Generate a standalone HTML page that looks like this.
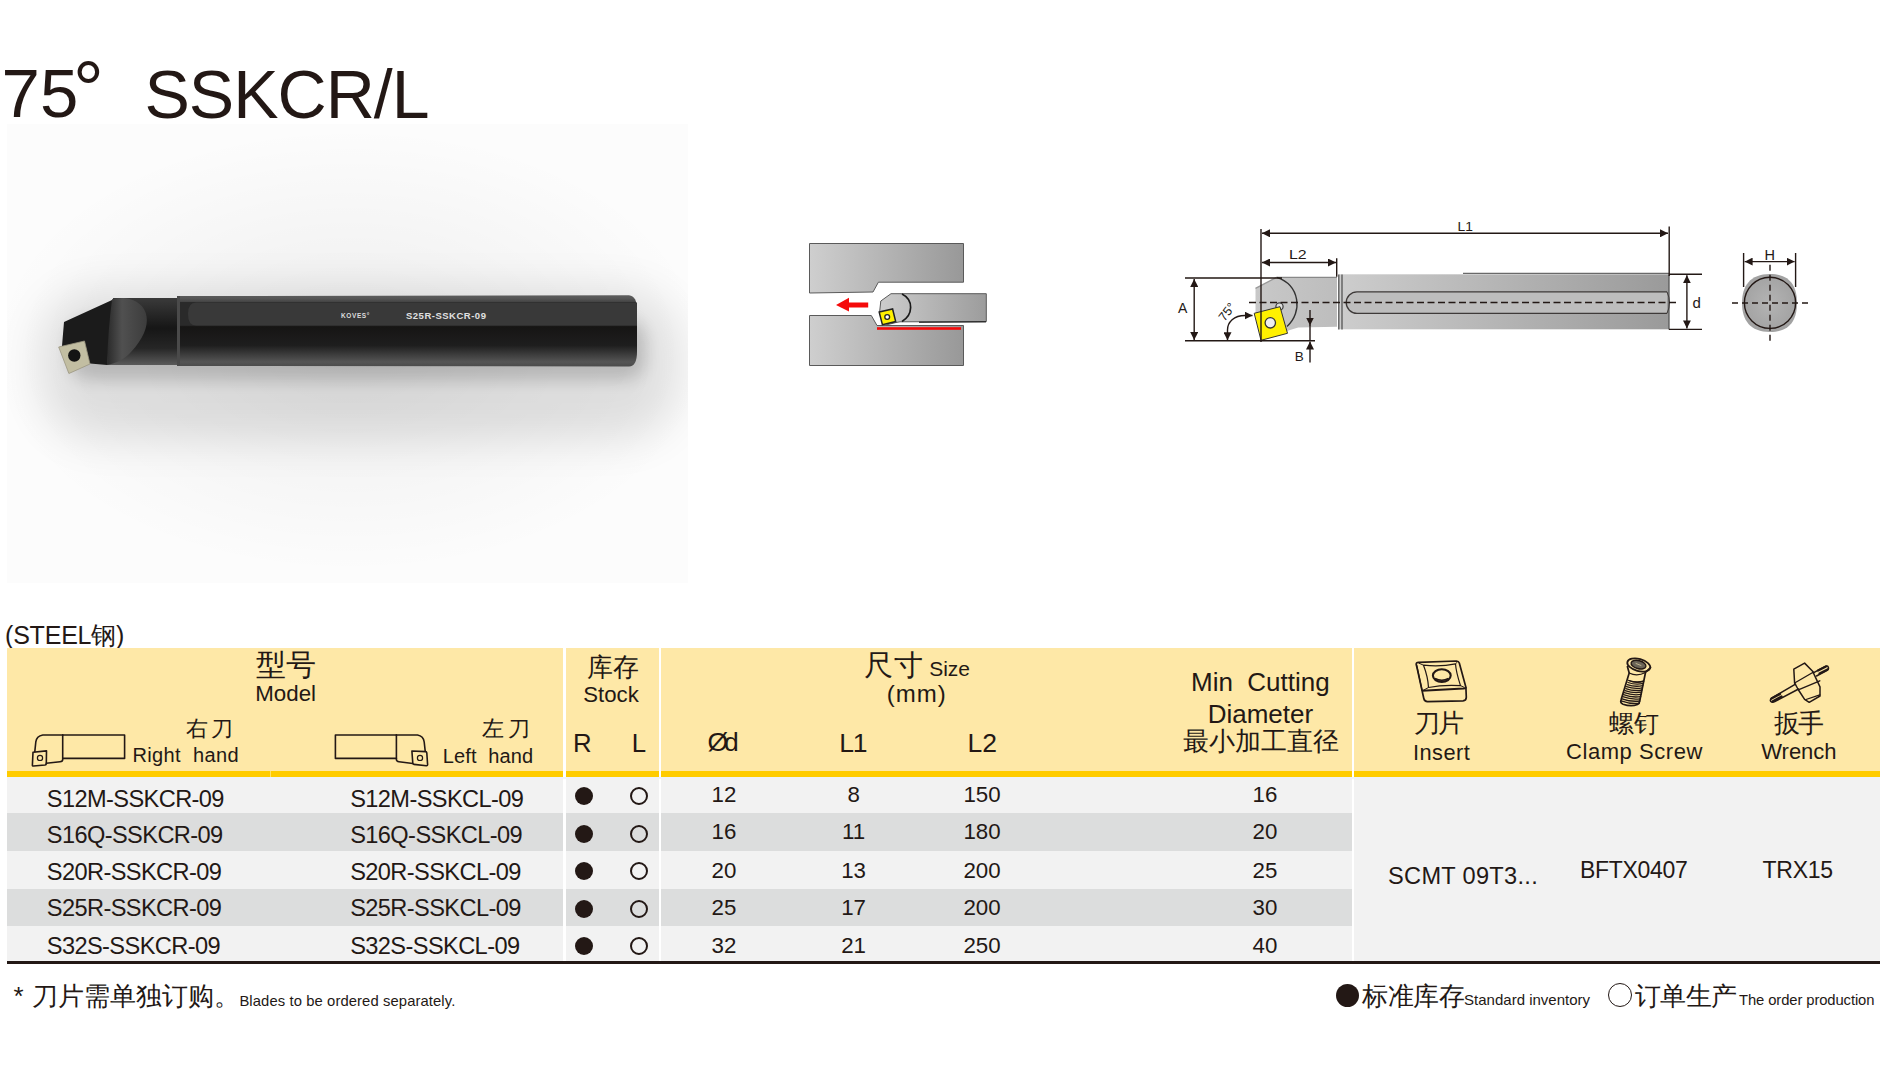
<!DOCTYPE html>
<html><head><meta charset="utf-8">
<style>
html,body{margin:0;padding:0;background:#fff;}
body{width:1885px;height:1080px;position:relative;overflow:hidden;font-family:"Liberation Sans",sans-serif;color:#231815;}
.a{position:absolute;white-space:nowrap;line-height:1;}
.bg{position:absolute;}
.c{text-align:center;}
svg{position:absolute;overflow:visible;}
</style></head>
<body>
<div class="a" style="left:1.6px;top:59px;font-size:69px;">75</div>
<div class="a" style="left:73.1px;top:50.7px;font-size:77px;">°</div>
<div class="a" style="left:144.5px;top:59.8px;font-size:68px;letter-spacing:-1.0px;">SSKCR/L</div>
<svg style="left:0;top:0" width="1885" height="1080" viewBox="0 0 1885 1080">
<defs>
<radialGradient id="pbg" cx="350" cy="350" r="360" gradientUnits="userSpaceOnUse" gradientTransform="translate(0,350) scale(1,0.62) translate(0,-350)">
<stop offset="0" stop-color="#000" stop-opacity="0.06"/><stop offset="0.5" stop-color="#000" stop-opacity="0.03"/><stop offset="1" stop-color="#000" stop-opacity="0"/>
</radialGradient>
<filter id="blur1" x="-50%" y="-100%" width="200%" height="300%"><feGaussianBlur stdDeviation="22"/></filter>
<filter id="blur2" x="-50%" y="-100%" width="200%" height="300%"><feGaussianBlur stdDeviation="8"/></filter>
<filter id="blur05"><feGaussianBlur stdDeviation="0.6"/></filter>
<linearGradient id="shank" x1="0" y1="295" x2="0" y2="367" gradientUnits="userSpaceOnUse">
<stop offset="0" stop-color="#5e5e5e"/>
<stop offset="0.05" stop-color="#555555"/>
<stop offset="0.09" stop-color="#474747"/>
<stop offset="0.10" stop-color="#2a2a2a"/>
<stop offset="0.42" stop-color="#2a2a2a"/>
<stop offset="0.44" stop-color="#161514"/>
<stop offset="0.70" stop-color="#1e1e1e"/>
<stop offset="0.93" stop-color="#555555"/>
<stop offset="1" stop-color="#4a4a4a"/>
</linearGradient>
<linearGradient id="neck" x1="0" y1="298" x2="0" y2="365" gradientUnits="userSpaceOnUse">
<stop offset="0" stop-color="#3a3a3a"/>
<stop offset="0.45" stop-color="#161616"/>
<stop offset="0.75" stop-color="#262626"/>
<stop offset="1" stop-color="#5a5a5a"/>
</linearGradient>
<linearGradient id="crescent" x1="107" y1="0" x2="150" y2="0" gradientUnits="userSpaceOnUse">
<stop offset="0" stop-color="#2a2a2a"/>
<stop offset="0.35" stop-color="#505050"/>
<stop offset="1" stop-color="#3a3a3a"/>
</linearGradient>
</defs>
<rect x="7" y="124" width="681" height="459" fill="#fcfcfc"/>
<rect x="7" y="124" width="681" height="459" fill="url(#pbg)"/>
<clipPath id="pclip"><rect x="7" y="124" width="681" height="459"/></clipPath>
<g clip-path="url(#pclip)">
<rect x="40" y="290" width="640" height="150" rx="60" fill="#000" opacity="0.10" filter="url(#blur1)"/>
<rect x="70" y="320" width="575" height="60" rx="20" fill="#000" opacity="0.16" filter="url(#blur2)"/>
</g>
<!-- head -->
<path d="M64,322 L111,300.5 Q114,298 120,298 L180,298 L180,365 L107,365 L90,363.5 L62,346 Z" fill="#1b1b1b"/>
<path d="M113,298 L180,298 L180,365 L107,365 Z" fill="url(#neck)"/>
<path d="M112,299.5 Q115,298 124,298 C150,301 156,326 131,352 C125,359 116,363.5 107,365 Q108,330 112,299.5 Z" fill="url(#crescent)"/>
<!-- shank -->
<path d="M177,296 L629,295.3 Q637,296 637,310 L637,352 Q637,366 629,366.5 L177,366 Z" fill="url(#shank)"/>
<rect x="177" y="296" width="3" height="70" fill="#4a4a4a"/>
<path d="M196,302.5 L637,302.5 L637,325.5 L196,325.5 Q188,325.5 188,314 Q188,302.5 196,302.5 Z" fill="#393939"/>
<!-- insert -->
<path d="M58.7,347 L84.5,341 L90,364 L68.9,373.5 Z" fill="#c2bea2" stroke="#9a9680" stroke-width="0.8"/>
<circle cx="74.3" cy="355.5" r="6.2" fill="#141414"/>
<!-- text -->
<text x="341" y="318" font-family="Liberation Sans" font-size="6.5" font-weight="bold" fill="#dcdcdc" letter-spacing="0.6">KOVES°</text>
<text x="406" y="318.5" font-family="Liberation Sans" font-size="9.5" font-weight="bold" fill="#e0e0e0" letter-spacing="0.5">S25R-SSKCR-09</text>
</svg>

<svg style="left:0;top:0" width="1885" height="1080" viewBox="0 0 1885 1080">
<defs>
<linearGradient id="g1" x1="809" y1="0" x2="964" y2="0" gradientUnits="userSpaceOnUse">
<stop offset="0" stop-color="#cfcfcf"/><stop offset="1" stop-color="#989898"/>
</linearGradient>
<linearGradient id="g2" x1="880" y1="0" x2="987" y2="0" gradientUnits="userSpaceOnUse">
<stop offset="0" stop-color="#cccccc"/><stop offset="1" stop-color="#9c9c9c"/>
</linearGradient>
</defs>
<path d="M809.5,243.5 L963.5,243.5 L963.5,282.2 L878.4,282.2 L873,292 L809.5,293 Z" fill="url(#g1)" stroke="#5a5a5a" stroke-width="1"/>
<path d="M809.5,315.5 L871.3,315.5 L877,325.5 L963.5,325.5 L963.5,365.5 L809.5,365.5 Z" fill="url(#g1)" stroke="#5a5a5a" stroke-width="1"/>
<rect x="877" y="327.2" width="84" height="2.6" fill="#f50a0a"/>
<path d="M891,293.7 L986.3,293.7 L986.3,321.6 L900,321.8 L896,322.5 L884,325.5 L879.5,313 L880.8,301 Z" fill="url(#g2)" stroke="#5a5a5a" stroke-width="1"/>
<path d="M902,294 C914,300 913,315 902,321.5" fill="none" stroke="#1a1a1a" stroke-width="1.7"/>
<path d="M919,322.2 L986,321.8" stroke="#222" stroke-width="1.4" opacity="0.8"/>
<path d="M879.2,312.1 L892.6,309 L895.7,321.6 L882.4,324.7 Z" fill="#fff100" stroke="#222" stroke-width="1.5"/>
<circle cx="887.2" cy="317" r="2.4" fill="#fff" stroke="#222" stroke-width="1.3"/>
<path d="M836,305 L849,297.8 L849,302.6 L868.2,302.6 L868.2,307.4 L849,307.4 L849,311.5 Z" fill="#f50a0a"/>
</svg>

<svg style="left:0;top:0" width="1885" height="1080" viewBox="0 0 1885 1080">
<defs>
<linearGradient id="g3" x1="1338" y1="0" x2="1669" y2="0" gradientUnits="userSpaceOnUse">
<stop offset="0" stop-color="#cdcdcd"/><stop offset="0.5" stop-color="#b4b4b4"/><stop offset="1" stop-color="#9a9a9a"/>
</linearGradient>
<linearGradient id="g4" x1="1255" y1="0" x2="1337" y2="0" gradientUnits="userSpaceOnUse">
<stop offset="0" stop-color="#c8c8c8"/><stop offset="1" stop-color="#bdbdbd"/>
</linearGradient>
<radialGradient id="g5" cx="50%" cy="50%" r="50%">
<stop offset="0" stop-color="#b4b4b4"/><stop offset="1" stop-color="#a2a2a2"/>
</radialGradient>
<marker id="ar" viewBox="0 0 10 10" refX="10" refY="5" markerWidth="8" markerHeight="8" markerUnits="userSpaceOnUse" orient="auto-start-reverse">
<path d="M0,0 L10,5 L0,10 Z" fill="#231815"/>
</marker>
</defs>
<g stroke="#231815" fill="none" stroke-width="1.3">
<!-- shank -->
<rect x="1338.5" y="274.3" width="330.5" height="55" fill="url(#g3)" stroke="none"/>
<path d="M1463,273.3 L1669,273.3" stroke="#444" stroke-width="1"/>
<path d="M1338.8,274.5 L1338.8,329.5 M1342,274.5 L1342,329.5" stroke="#555"/>
<path d="M1669,274.5 L1669,329.5" stroke="#555" stroke-width="1.3"/>
<!-- slot -->
<path d="M1667,291.8 L1357,291.8 A10.8,10.8 0 0 0 1357,313.4 L1667,313.4" stroke="#3e3a39" stroke-width="1.3" fill="#bdbdbd"/>
<path d="M1667,291.8 Q1672,302.6 1667,313.4" stroke="#3e3a39" stroke-width="1"/>
<!-- head -->
<path d="M1255.5,288.3 L1276.7,277.3 L1337,277.3 L1337,326.7 L1298.3,327.5 L1290,330 L1262,340 L1255.5,313 Z" fill="url(#g4)" stroke="none"/>
<path d="M1276.7,277.3 L1337,277.3" stroke="#888"/>
<path d="M1276.7,277.3 C1300,285 1303,312 1287,326.5" stroke="#333" stroke-width="1.4"/>
<path d="M1255.5,288.3 L1276.7,277.3" stroke="#999"/>
<!-- screw behind -->
<circle cx="1279.5" cy="306.5" r="3.6" fill="#ddd" stroke="#444"/>
<!-- insert -->
<path d="M1254.2,313.3 L1280,306.7 L1287.5,333.3 L1261,340.3 Z" fill="#fff000" stroke="#333" stroke-width="1"/>
<circle cx="1270.3" cy="322.8" r="5.2" fill="#eee" stroke="#333" stroke-width="1.3"/>
<!-- center line -->
<path d="M1249,302.5 L1678,302.5" stroke="#231815" stroke-width="1.7" stroke-dasharray="7,3.5"/>
<!-- L1 -->
<path d="M1261,229 L1261,342" stroke-width="1.4"/>
<path d="M1669.2,226.5 L1669.2,276" stroke-width="1.4"/>
<path d="M1262,233.3 L1668,233.3" marker-start="url(#ar)" marker-end="url(#ar)" stroke-width="1.4"/>
<!-- L2 -->
<path d="M1336.7,258.3 L1336.7,276.7" stroke-width="1.4"/>
<path d="M1262,262.5 L1336,262.5" marker-start="url(#ar)" marker-end="url(#ar)" stroke-width="1.4"/>
<!-- A -->
<path d="M1185,278 L1282,278 M1185,340.8 L1315,340.8" stroke-width="1.4"/>
<path d="M1194.2,279 L1194.2,340" marker-start="url(#ar)" marker-end="url(#ar)" stroke-width="1.4"/>
<!-- B -->
<path d="M1310,310 L1310,325.5" marker-end="url(#ar)" stroke-width="1.4"/>
<path d="M1310,325 L1310,340.8" stroke-width="1.4"/>
<path d="M1310,362.5 L1310,341.5" marker-end="url(#ar)" stroke-width="1.4"/>
<!-- 75 arc -->
<path d="M1252.5,315.5 L1245,315.5 C1234,315.5 1227.5,322 1227.5,330 L1227.5,340.3" marker-start="url(#ar)" marker-end="url(#ar)" stroke-width="1.4"/>
<!-- d -->
<path d="M1669,274.3 L1702,274.3 M1669,329.4 L1702,329.4" stroke-width="1.4"/>
<path d="M1686.9,275.3 L1686.9,328.4" marker-start="url(#ar)" marker-end="url(#ar)" stroke-width="1.4"/>
<!-- end view -->
<path d="M1770,274 C1790,274 1797,286 1797,303 C1797,320 1790,332 1770,332 C1750,332 1742,320 1742,303 C1742,286 1750,274 1770,274 Z" fill="url(#g5)" stroke="none"/>
<circle cx="1770" cy="302.8" r="25.6" stroke="#231815" stroke-width="1.4"/>
<path d="M1743.6,253 L1743.6,287 M1795.6,253 L1795.6,287" stroke-width="1.4"/>
<path d="M1744.6,261.6 L1794.6,261.6" marker-start="url(#ar)" marker-end="url(#ar)" stroke-width="1.4"/>
<path d="M1732,303 L1809.5,303" stroke-dasharray="6,4" stroke-width="1.4" stroke="#231815"/>
<path d="M1770,264.7 L1770,341" stroke-dasharray="6,4" stroke-width="1.4" stroke="#231815"/>
</g>
<g font-family="Liberation Sans" fill="#231815" font-size="13">
<text x="1457.5" y="230.8" textLength="15.4" lengthAdjust="spacingAndGlyphs">L1</text>
<text x="1289" y="259.2" textLength="17.7" lengthAdjust="spacingAndGlyphs">L2</text>
<text x="1178" y="313.3" font-size="14">A</text>
<text x="1294.8" y="360.8" font-size="13.5">B</text>
<text x="1692.4" y="308.3" font-size="15">d</text>
<text x="1764.6" y="259.5" font-size="14.5">H</text>
<text x="0" y="0" font-size="12.5" transform="translate(1224.5,322) rotate(-52)">75°</text>
</g>
</svg>

<div class="a" style="left:5px;top:623px;font-size:25px;letter-spacing:-0.2px;">(STEEL钢)</div>
<div class="bg" style="left:7px;top:648px;width:556px;height:123px;background:#fee8a7;"></div>
<div class="bg" style="left:7px;top:771px;width:556px;height:6px;background:#ffcc00;"></div>
<div class="bg" style="left:566px;top:648px;width:93px;height:123px;background:#fee8a7;"></div>
<div class="bg" style="left:566px;top:771px;width:93px;height:6px;background:#ffcc00;"></div>
<div class="bg" style="left:661px;top:648px;width:691px;height:123px;background:#fee8a7;"></div>
<div class="bg" style="left:661px;top:771px;width:691px;height:6px;background:#ffcc00;"></div>
<div class="bg" style="left:1354px;top:648px;width:526px;height:123px;background:#fee8a7;"></div>
<div class="bg" style="left:1354px;top:771px;width:526px;height:6px;background:#ffcc00;"></div>
<div class="bg" style="left:7px;top:777px;width:556px;height:36px;background:#f2f2f2;"></div>
<div class="bg" style="left:7px;top:813px;width:556px;height:38px;background:#dcdddd;"></div>
<div class="bg" style="left:7px;top:851px;width:556px;height:38px;background:#f2f2f2;"></div>
<div class="bg" style="left:7px;top:889px;width:556px;height:37px;background:#dcdddd;"></div>
<div class="bg" style="left:7px;top:926px;width:556px;height:36px;background:#f2f2f2;"></div>
<div class="bg" style="left:566px;top:777px;width:93px;height:36px;background:#f2f2f2;"></div>
<div class="bg" style="left:566px;top:813px;width:93px;height:38px;background:#dcdddd;"></div>
<div class="bg" style="left:566px;top:851px;width:93px;height:38px;background:#f2f2f2;"></div>
<div class="bg" style="left:566px;top:889px;width:93px;height:37px;background:#dcdddd;"></div>
<div class="bg" style="left:566px;top:926px;width:93px;height:36px;background:#f2f2f2;"></div>
<div class="bg" style="left:661px;top:777px;width:691px;height:36px;background:#f2f2f2;"></div>
<div class="bg" style="left:661px;top:813px;width:691px;height:38px;background:#dcdddd;"></div>
<div class="bg" style="left:661px;top:851px;width:691px;height:38px;background:#f2f2f2;"></div>
<div class="bg" style="left:661px;top:889px;width:691px;height:37px;background:#dcdddd;"></div>
<div class="bg" style="left:661px;top:926px;width:691px;height:36px;background:#f2f2f2;"></div>
<div class="bg" style="left:1354px;top:777px;width:526px;height:185px;background:#f2f2f2;"></div>
<div class="bg" style="left:7px;top:961px;width:1873px;height:3px;background:#231815;"></div>
<div class="bg" style="left:269.8px;top:771px;width:1px;height:6px;background:#ffe36a;"></div>
<div class="bg" style="left:7px;top:777px;width:1873px;height:1.5px;background:#eef1f8;opacity:0.8;"></div>
<svg style="left:0;top:0" width="1885" height="1080" viewBox="0 0 1885 1080">
<g fill="none" stroke="#231815" stroke-width="1.6" stroke-linejoin="round" stroke-linecap="round">
<!-- right hand icon -->
<path d="M62.7,735 L124.6,735 L124.6,758.4 L62.7,758.4"/>
<path d="M62.7,735 L42.8,735 Q36.5,736 35.8,742 L34.8,751.6"/>
<path d="M62.7,735 L62.7,759.5 Q62.7,761.5 60,761.8 L46.3,763.3"/>
<path d="M33,752.3 L46.5,750.9 L46.3,763.8 Q46.2,764.8 45,765 L33.5,766 Q32.3,766.1 32.4,765 Z"/>
<circle cx="40" cy="757.9" r="2.6" stroke-width="1.2"/>
<!-- left hand icon -->
<path d="M396.4,735 L335.4,735 L335.4,758.4 L396.4,758.4"/>
<path d="M396.4,735 L417.5,735 Q423.5,736 424.2,742 L425.2,751.2"/>
<path d="M396.4,735 L396.4,759.5 Q396.5,761.5 399,761.8 L412.8,763.5"/>
<path d="M411.9,751 L425.6,751.6 Q426.6,751.7 426.8,752.8 L427.6,764.6 Q427.6,765.8 426.4,765.7 L414,764.4 Q412.9,764.3 412.8,763.2 Z"/>
<circle cx="420" cy="757.9" r="2.6" stroke-width="1.2"/>
</g>
<!-- insert icon -->
<g fill="none" stroke="#231815" stroke-linejoin="round">
<path d="M1418.5,662.3 L1456.5,661 Q1458.6,661 1459.3,663 L1465.9,687.3 L1466.3,697.3 Q1466.3,700.6 1463,700.8 L1427.5,701.6 Q1424.5,701.6 1423.8,698.5 L1417,667.5 L1416.2,664.5 Q1416,662.4 1418.5,662.3 Z" stroke-width="1.7"/>
<path d="M1422.2,690.8 L1463.5,688.6 Q1466,688.2 1465.9,687.3" stroke-width="2"/>
<path d="M1422.2,690.8 L1416.6,665" stroke-width="1.2"/>
<path d="M1418.5,663 L1423.5,665.2 M1457.5,662 L1455.5,663.8 M1460.5,685.6 L1464.5,687.5 M1428.5,687.5 L1423,690.5" stroke-width="1"/>
<path d="M1423.5,665.2 Q1441,667 1455.5,663.8 Q1456,672 1460.5,685.6 Q1443,684.5 1428.5,687.5 Q1428,677 1423.5,665.2 Z" stroke-width="1.2"/>
<ellipse cx="1441.8" cy="675.6" rx="8.9" ry="6.3" stroke-width="2.1"/>
<path d="M1435,678.5 Q1441.8,682 1448.5,678.5" stroke-width="1.6"/>
</g>
<!-- screw icon -->
<g fill="none" stroke="#231815" stroke-linejoin="round" stroke-linecap="round">
<ellipse cx="1638.8" cy="665" rx="11.8" ry="6" transform="rotate(15 1638.8 665)" stroke-width="1.8"/>
<ellipse cx="1638.5" cy="664.6" rx="7.6" ry="4" transform="rotate(15 1638.5 664.6)" stroke-width="1.4" fill="#6b6458"/>
<path d="M1636,663.5 L1641,665.5" stroke="#c8bc94" stroke-width="0.9"/>
<path d="M1627.4,666.5 L1629.2,673 L1621,700 Q1620,703 1623,704.2 Q1631,707 1637.5,704.5 Q1639.5,703.5 1639.6,701.5 L1645.5,672.5 L1650.5,667.5" stroke-width="1.7"/>
<path d="M1629.2,673 Q1637,676.8 1645.5,672.5" stroke-width="1.3"/>
<path d="M1628.8,680.5 Q1636.5,684 1643.6,681.2" stroke-width="1.3"/>
<path d="M1628.8,680.5 Q1636.2,683.1 1643.6,681.2 M1628.0,682.5 Q1635.6,685.2 1643.2,683.4 M1627.3,684.6 Q1635.0,687.3 1642.8,685.6 M1626.5,686.6 Q1634.4,689.4 1642.3,687.8 M1625.8,688.6 Q1633.8,691.5 1641.9,690.0 M1625.0,690.6 Q1633.2,693.6 1641.5,692.2 M1624.2,692.7 Q1632.7,695.7 1641.1,694.4 M1623.5,694.7 Q1632.1,697.9 1640.7,696.6 M1622.7,696.7 Q1631.5,700.0 1640.2,698.8 M1622.0,698.8 Q1630.9,702.1 1639.8,701.0 M1621.2,700.8 Q1630.3,704.2 1639.4,703.2" stroke-width="1.3"/>
</g>
<!-- wrench icon -->
<g fill="none" stroke="#231815" stroke-linejoin="round" stroke-linecap="round">
<path d="M1804.6,663.1 L1812.6,671.2 L1820,686.9 L1820,696 L1809.2,702.3 L1804.6,699.4 L1798.5,690 L1794.6,683 L1793.8,669.2 Z" stroke-width="1.5"/>
<path d="M1794.6,683 L1813.6,672" stroke-width="1.4"/>
<path d="M1799.5,689.3 L1819.8,680.8" stroke-width="1.4"/>
<path d="M1806,699.5 L1819.8,694.8" stroke-width="1.3"/>
<path d="M1795.5,684.2 L1772,697.8 Q1769.5,699.6 1770.8,701.5 Q1772.3,703 1774.8,701.6 L1798.6,689" stroke-width="1.5"/>
<path d="M1771.5,698.5 L1780,694 M1772.5,701.5 L1781.5,696.6" stroke-width="2.4"/>
<path d="M1813.3,672.8 L1824.8,666.6 Q1827.6,665.2 1828.4,667.4 Q1829,669.5 1826.3,670.8 L1816.5,676" stroke-width="1.5"/>
<path d="M1818,670.6 L1826,666.5 M1819.5,673.5 L1827.5,669.5" stroke-width="2.2"/>
</g>
</svg>

<div class="a" style="left:255.8px;top:649.8px;font-size:29.5px;">型号</div>
<div class="a" style="left:255.3px;top:683.4px;font-size:22.3px;">Model</div>
<div class="a" style="left:185.8px;top:718.1px;font-size:21.6px;letter-spacing:3.6px;">右刀</div>
<div class="a" style="left:132.4px;top:745.2px;font-size:20px;white-space:pre;letter-spacing:0.4px;">Right  hand</div>
<div class="a" style="left:482.3px;top:718.2px;font-size:21.6px;letter-spacing:3.4px;">左刀</div>
<div class="a" style="left:442.8px;top:745.5px;font-size:20px;white-space:pre;letter-spacing:0.15px;">Left  hand</div>
<div class="a" style="left:586.6px;top:654.2px;font-size:26px;">库存</div>
<div class="a" style="left:583.3px;top:684px;font-size:22.2px;">Stock</div>
<div class="a" style="left:573px;top:730.6px;font-size:25.8px;">R</div>
<div class="a" style="left:631.8px;top:730.6px;font-size:25.8px;">L</div>
<div class="a" style="left:863.5px;top:650.5px;font-size:29px;letter-spacing:1px;">尺寸</div>
<div class="a" style="left:929.2px;top:658px;font-size:21px;">Size</div>
<div class="a" style="left:886.8px;top:681.8px;font-size:24px;letter-spacing:1px;">(mm)</div>
<div class="a" style="left:707.4px;top:729.4px;font-size:26.5px;letter-spacing:-4px;">Ød</div>
<div class="a" style="left:839.2px;top:730.2px;font-size:26.5px;letter-spacing:-1.2px;">L1</div>
<div class="a" style="left:967.5px;top:730.2px;font-size:26.5px;">L2</div>
<div class="a" style="left:1191px;top:669.1px;font-size:26px;white-space:pre;">Min  Cutting</div>
<div class="a" style="left:1207.7px;top:700.5px;font-size:26px;">Diameter</div>
<div class="a" style="left:1183.2px;top:728.2px;font-size:26px;">最小加工直径</div>
<div class="a" style="left:1414.1px;top:711px;font-size:25.5px;letter-spacing:-1.6px;">刀片</div>
<div class="a" style="left:1413px;top:741.5px;font-size:21.8px;letter-spacing:0.45px;">Insert</div>
<div class="a" style="left:1609px;top:711px;font-size:25px;">螺钉</div>
<div class="a" style="left:1566px;top:740.9px;font-size:22px;letter-spacing:0.55px;">Clamp Screw</div>
<div class="a" style="left:1773.8px;top:710.6px;font-size:25.5px;letter-spacing:-1.5px;">扳手</div>
<div class="a" style="left:1761.2px;top:740.9px;font-size:22px;">Wrench</div>
<div class="a" style="left:46.8px;top:787.7px;font-size:23.6px;letter-spacing:-0.6px;">S12M-SSKCR-09</div>
<div class="a" style="left:350.2px;top:787.7px;font-size:23.6px;letter-spacing:-0.6px;">S12M-SSKCL-09</div>
<div class="a c" style="left:673.9px;width:100px;top:784.2px;font-size:22.3px;">12</div>
<div class="a c" style="left:803.6px;width:100px;top:784.2px;font-size:22.3px;">8</div>
<div class="a c" style="left:932px;width:100px;top:784.2px;font-size:22.3px;">150</div>
<div class="a c" style="left:1214.9px;width:100px;top:784.2px;font-size:22.3px;">16</div>
<div class="bg" style="left:575px;top:786.6px;width:18px;height:18px;border-radius:50%;background:#231815;"></div>
<div class="bg" style="left:629.6px;top:786.6px;width:18px;height:18px;border-radius:50%;box-sizing:border-box;border:2.2px solid #231815;"></div>
<div class="a" style="left:46.8px;top:823.8px;font-size:23.6px;letter-spacing:-0.6px;">S16Q-SSKCR-09</div>
<div class="a" style="left:350.2px;top:823.8px;font-size:23.6px;letter-spacing:-0.6px;">S16Q-SSKCL-09</div>
<div class="a c" style="left:673.9px;width:100px;top:821.3px;font-size:22.3px;">16</div>
<div class="a c" style="left:803.6px;width:100px;top:821.3px;font-size:22.3px;">11</div>
<div class="a c" style="left:932px;width:100px;top:821.3px;font-size:22.3px;">180</div>
<div class="a c" style="left:1214.9px;width:100px;top:821.3px;font-size:22.3px;">20</div>
<div class="bg" style="left:575px;top:825.1px;width:18px;height:18px;border-radius:50%;background:#231815;"></div>
<div class="bg" style="left:629.6px;top:825.1px;width:18px;height:18px;border-radius:50%;box-sizing:border-box;border:2.2px solid #231815;"></div>
<div class="a" style="left:46.8px;top:861.4px;font-size:23.6px;letter-spacing:-0.6px;">S20R-SSKCR-09</div>
<div class="a" style="left:350.2px;top:861.4px;font-size:23.6px;letter-spacing:-0.6px;">S20R-SSKCL-09</div>
<div class="a c" style="left:673.9px;width:100px;top:859.5px;font-size:22.3px;">20</div>
<div class="a c" style="left:803.6px;width:100px;top:859.5px;font-size:22.3px;">13</div>
<div class="a c" style="left:932px;width:100px;top:859.5px;font-size:22.3px;">200</div>
<div class="a c" style="left:1214.9px;width:100px;top:859.5px;font-size:22.3px;">25</div>
<div class="bg" style="left:575px;top:862.4px;width:18px;height:18px;border-radius:50%;background:#231815;"></div>
<div class="bg" style="left:629.6px;top:862.4px;width:18px;height:18px;border-radius:50%;box-sizing:border-box;border:2.2px solid #231815;"></div>
<div class="a" style="left:46.8px;top:897.4px;font-size:23.6px;letter-spacing:-0.6px;">S25R-SSKCR-09</div>
<div class="a" style="left:350.2px;top:897.4px;font-size:23.6px;letter-spacing:-0.6px;">S25R-SSKCL-09</div>
<div class="a c" style="left:673.9px;width:100px;top:896.8px;font-size:22.3px;">25</div>
<div class="a c" style="left:803.6px;width:100px;top:896.8px;font-size:22.3px;">17</div>
<div class="a c" style="left:932px;width:100px;top:896.8px;font-size:22.3px;">200</div>
<div class="a c" style="left:1214.9px;width:100px;top:896.8px;font-size:22.3px;">30</div>
<div class="bg" style="left:575px;top:899.6px;width:18px;height:18px;border-radius:50%;background:#231815;"></div>
<div class="bg" style="left:629.6px;top:899.6px;width:18px;height:18px;border-radius:50%;box-sizing:border-box;border:2.2px solid #231815;"></div>
<div class="a" style="left:46.8px;top:934.7px;font-size:23.6px;letter-spacing:-0.6px;">S32S-SSKCR-09</div>
<div class="a" style="left:350.2px;top:934.7px;font-size:23.6px;letter-spacing:-0.6px;">S32S-SSKCL-09</div>
<div class="a c" style="left:673.9px;width:100px;top:934.6px;font-size:22.3px;">32</div>
<div class="a c" style="left:803.6px;width:100px;top:934.6px;font-size:22.3px;">21</div>
<div class="a c" style="left:932px;width:100px;top:934.6px;font-size:22.3px;">250</div>
<div class="a c" style="left:1214.9px;width:100px;top:934.6px;font-size:22.3px;">40</div>
<div class="bg" style="left:575px;top:937.3px;width:18px;height:18px;border-radius:50%;background:#231815;"></div>
<div class="bg" style="left:629.6px;top:937.3px;width:18px;height:18px;border-radius:50%;box-sizing:border-box;border:2.2px solid #231815;"></div>
<div class="a" style="left:1388px;top:864.6px;font-size:23.6px;letter-spacing:0.3px;">SCMT 09T3...</div>
<div class="a" style="left:1580px;top:859.2px;font-size:23px;letter-spacing:-0.3px;">BFTX0407</div>
<div class="a" style="left:1762.6px;top:859.2px;font-size:23px;letter-spacing:-0.3px;">TRX15</div>
<div class="a" style="left:13.6px;top:983px;font-size:26px;">*</div>
<div class="a" style="left:32.2px;top:982.9px;font-size:26px;">刀片需单独订购。</div>
<div class="a" style="left:239.4px;top:993.8px;font-size:14.8px;letter-spacing:0.1px;">Blades to be ordered separately.</div>
<div class="bg" style="left:1335.7px;top:984.3px;width:23px;height:23px;border-radius:50%;background:#231815;"></div>
<div class="a" style="left:1362px;top:983.2px;font-size:26px;letter-spacing:-0.3px;">标准库存</div>
<div class="a" style="left:1464.1px;top:992.35px;font-size:15px;letter-spacing:0px;">Standard inventory</div>
<div class="bg" style="left:1608.3px;top:983.3px;width:24px;height:24px;border-radius:50%;box-sizing:border-box;border:1.6px solid #231815;"></div>
<div class="a" style="left:1635px;top:983px;font-size:26px;letter-spacing:-0.6px;">订单生产</div>
<div class="a" style="left:1739px;top:992.6px;font-size:14.8px;letter-spacing:-0.1px;">The order production</div>
</body></html>
